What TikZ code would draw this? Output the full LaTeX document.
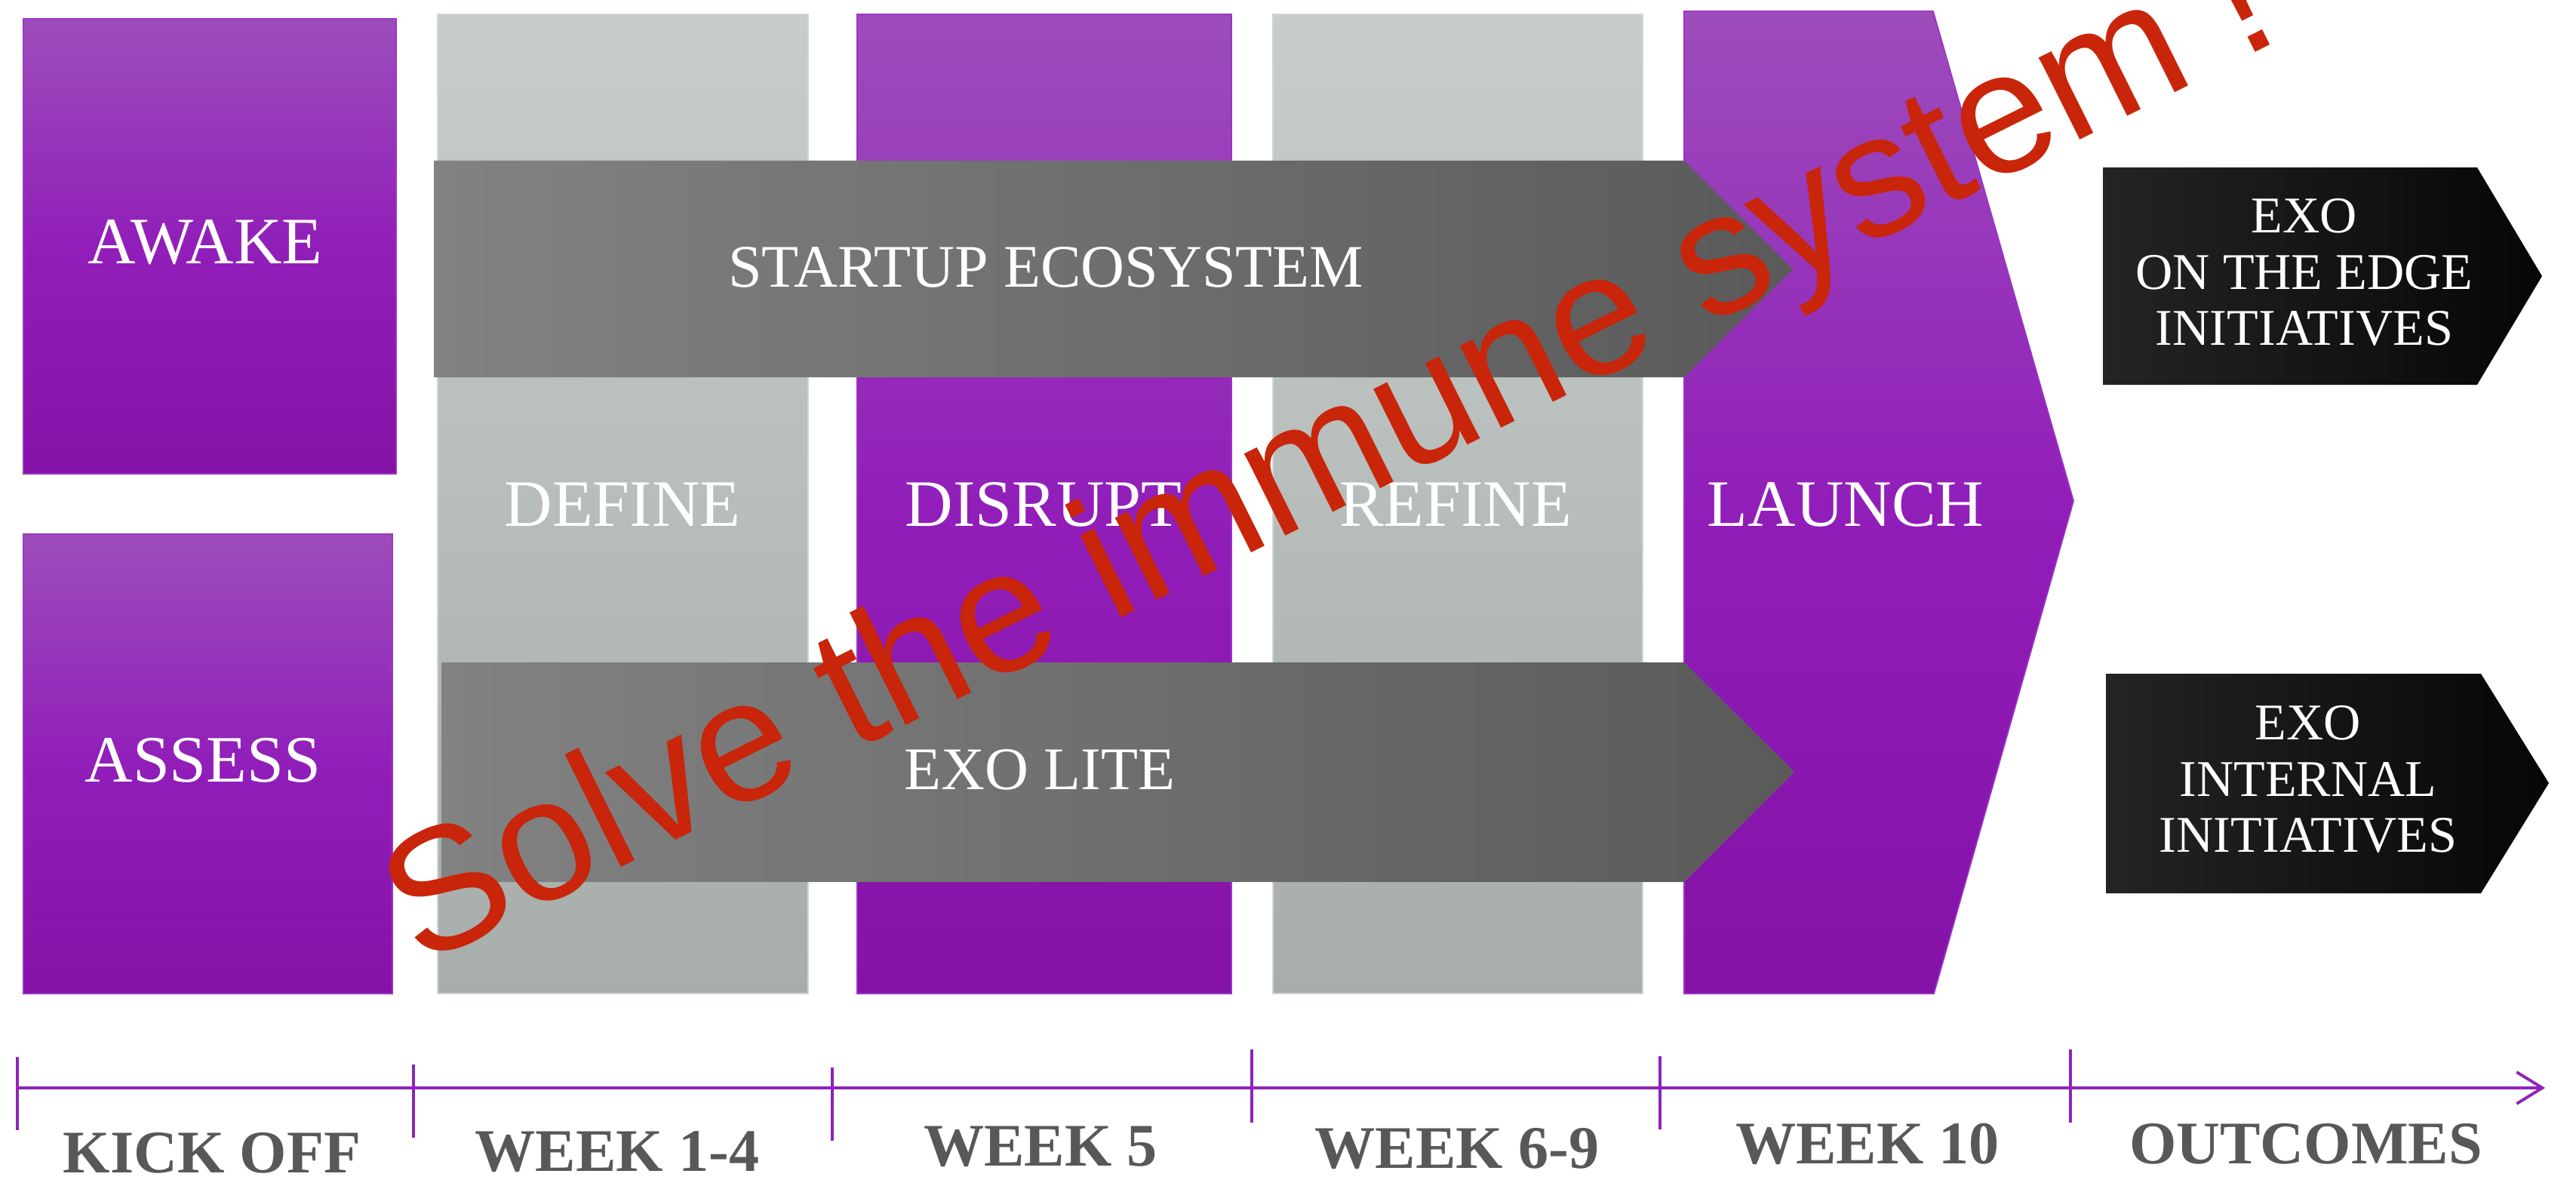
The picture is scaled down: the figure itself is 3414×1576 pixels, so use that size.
\documentclass[tikz,border=0pt]{standalone}
\usepackage{fontspec}
\setmainfont{Liberation Serif}
\newfontfamily\solvefont{Liberation Sans}
\usepackage{xcolor}
\usepackage{tikz}
\usetikzlibrary{arrows.meta}

\definecolor{colTop}{HTML}{9D4DBB}
\definecolor{colMid}{HTML}{911EB9}
\definecolor{colBot}{HTML}{8412A6}
\definecolor{colEdge}{HTML}{9A35C4}
\definecolor{greyTop}{HTML}{C7CDCA}
\definecolor{greyBot}{HTML}{A6ADAA}
\definecolor{greyEdge}{HTML}{D2D6D4}
\definecolor{arrowLeft}{HTML}{828282}
\definecolor{arrowRight}{HTML}{5A5A5A}
\definecolor{outLeft}{HTML}{242424}
\definecolor{outRight}{HTML}{060606}
\definecolor{lineCol}{HTML}{8E24B8}
\definecolor{weekGrey}{HTML}{58585A}
\definecolor{warnRed}{HTML}{C8250A}

\begin{document}
\begin{tikzpicture}[x=0.01cm, y=0.01cm,
	purplecol/.style={top color=colTop, bottom color=colBot, middle color=colMid, draw=colEdge, line width=0.5pt},
	greycol/.style={top color=greyTop, bottom color=greyBot, draw=greyEdge, line width=0.5pt},
	greyarrow/.style={left color=arrowLeft, right color=arrowRight},
	outbox/.style={left color=outLeft, right color=outRight},
	boxlabel/.style={text=white, inner sep=0pt, anchor=base, font=\fontsize{25}{30}\selectfont},
	arrowlabel/.style={text=white, inner sep=0pt, anchor=base, font=\fontsize{22.8}{27}\selectfont},
	outlabel/.style={text=white, inner sep=0pt, align=center, font=\fontsize{19.4}{21.3}\selectfont},
	weeklabel/.style={text=weekGrey, inner sep=0pt, anchor=base, font=\bfseries\fontsize{22.8}{27}\selectfont},
	tickmark/.style={lineCol, line width=1pt},
	solvelabel/.style={text=warnRed, inner sep=0pt, anchor=base, font=\solvefont\fontsize{65.4}{70}\selectfont}]

				\useasboundingbox (0,0) rectangle (3414,-1576);

				\path[purplecol] (31,-25) rectangle (525,-628);
				\path[purplecol] (31,-708) rectangle (520,-1317);
				\path[greycol] (580,-19) rectangle (1071,-1317);
				\path[purplecol] (1136,-19) rectangle (1632,-1317);
				\path[greycol] (1687,-19) rectangle (2177,-1317);
				\path[purplecol] (2232,-15) -- (2562,-15) -- (2748,-664) -- (2563,-1317) -- (2232,-1317) -- cycle;

				\path[greyarrow] (575,-213) -- (2232,-213) -- (2376,-357) -- (2232,-500) -- (575,-500) -- cycle;
				\path[greyarrow] (585,-878) -- (2232,-878) -- (2378,-1023) -- (2232,-1169) -- (585,-1169) -- cycle;

				\path[outbox] (2787,-222) -- (3283,-222) -- (3369,-366) -- (3283,-510) -- (2787,-510) -- cycle;
				\path[outbox] (2791,-893) -- (3288,-893) -- (3378,-1038) -- (3288,-1184) -- (2791,-1184) -- cycle;

				\node[boxlabel] (awake) at (272,-350) {AWAKE};
				\node[boxlabel] (assess) at (269,-1036) {ASSESS};
				\node[boxlabel] (define) at (825,-697) {DEFINE};
				\node[boxlabel] (disrupt) at (1383,-697) {DISRUPT};
				\node[boxlabel] (refine) at (1929,-697) {REFINE};
				\node[boxlabel] (launch) at (2446,-697) {LAUNCH};

				\node[arrowlabel] (startup) at (1386,-380) {STARTUP ECOSYSTEM};
				\node[arrowlabel] (exolite) at (1378,-1046) {EXO LITE};

				\node[outlabel] (edge) at (3054,-361) {EXO\\ON THE EDGE\\INITIATIVES};
				\node[outlabel] (internal) at (3059,-1033) {EXO\\INTERNAL\\INITIATIVES};

				\coordinate (tlStart) at (23,-1442);
				\coordinate (tlEnd) at (3373,-1442);
				\draw[lineCol, line width=1.1pt, -{Straight Barb[length=0.34cm, width=0.42cm]}] (tlStart) -- (tlEnd);
				\foreach \tx/\ty in {23/1401, 548/1411, 1103/1415, 1659/1391, 2200/1400, 2744/1391}
					\draw[tickmark] (\tx,-\ty) -- ++(0,-97);

				\node[weeklabel] (kickoff) at (281,-1554) {KICK OFF};
				\node[weeklabel] (week14) at (818,-1552) {WEEK 1-4};
				\node[weeklabel] (week5) at (1379,-1545) {WEEK 5};
				\node[weeklabel] (week69) at (1931,-1548) {WEEK 6-9};
				\node[weeklabel] (week10) at (2475,-1542) {WEEK 10};
				\node[weeklabel] (outcomes) at (3056,-1542) {OUTCOMES};

				\node[solvelabel, rotate=26.5] (solve) at (1793,-666) {Solve the immune system !};
\end{tikzpicture}
\end{document}
